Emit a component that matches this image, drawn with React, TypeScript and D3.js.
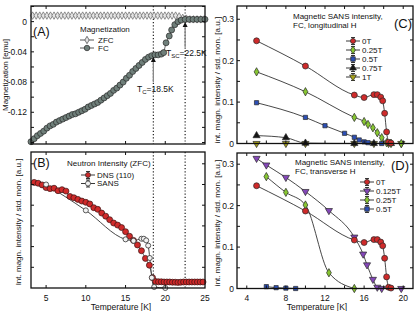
import React from 'react';
import * as d3 from 'd3';

// ---------- DATA ----------
// Panel A: magnetization
const zfcT = [3.3, 3.75, 4.2, 4.65, 5.1, 5.55, 6.0, 6.45, 6.9, 7.35, 7.8, 8.25, 8.7, 9.15, 9.6, 10.05, 10.5, 10.95, 11.4, 11.85, 12.3, 12.75, 13.2, 13.65, 14.1, 14.55, 15.0, 15.45, 15.9, 16.35, 16.8, 17.25, 17.7, 18.15, 18.6, 19.05, 19.5, 19.95, 20.4, 20.85, 21.3, 21.75, 22.2, 22.65, 23.1, 23.55, 24.0, 24.45, 24.9];
const zfcM = [0.008, 0.008, 0.008, 0.008, 0.008, 0.008, 0.008, 0.008, 0.008, 0.008, 0.008, 0.008, 0.008, 0.008, 0.008, 0.008, 0.008, 0.008, 0.008, 0.008, 0.008, 0.008, 0.008, 0.008, 0.008, 0.008, 0.008, 0.008, 0.008, 0.008, 0.008, 0.008, 0.008, 0.008, 0.008, 0.008, 0.008, 0.008, 0.008, 0.008, 0.008, 0.007, 0.005, 0.004, 0.003, 0.003, 0.003, 0.003, 0.003];
const fcT = [3.1, 3.5, 3.9, 4.3, 4.7, 5.1, 5.5, 5.9, 6.3, 6.7, 7.1, 7.5, 7.9, 8.3, 8.7, 9.1, 9.5, 9.9, 10.3, 10.7, 11.1, 11.5, 11.9, 12.3, 12.7, 13.1, 13.5, 13.9, 14.3, 14.7, 15.1, 15.5, 15.9, 16.3, 16.7, 17.1, 17.5, 17.9, 18.3, 18.7, 19.1, 19.5, 19.8, 20.1, 20.5, 20.8, 21.2, 21.6, 22.0, 22.5, 23.0, 23.5, 24.0, 24.5, 25.0];
const fcM = [-0.159, -0.155, -0.151, -0.148, -0.145, -0.141, -0.138, -0.136, -0.133, -0.131, -0.129, -0.127, -0.125, -0.123, -0.122, -0.120, -0.118, -0.116, -0.113, -0.111, -0.109, -0.107, -0.104, -0.101, -0.098, -0.095, -0.091, -0.088, -0.084, -0.080, -0.075, -0.071, -0.066, -0.062, -0.058, -0.054, -0.050, -0.047, -0.045, -0.044, -0.044, -0.043, -0.041, -0.028, -0.019, -0.011, -0.004, 0.000, 0.002, 0.003, 0.003, 0.003, 0.003, 0.003, 0.003];
const aYTicks = [-0.16, -0.14, -0.12, -0.10, -0.08, -0.06, -0.04, -0.02, 0, 0.02];
const aYLabels = [0, -0.04, -0.08, -0.12];

// Panel B: neutron intensity (ZFC), arbitrary units
const dnsT = [3.5, 4.0, 4.5, 5.0, 5.5, 6.0, 6.5, 7.0, 7.5, 8.0, 8.5, 9.0, 9.5, 10.0, 10.5, 11.0, 11.5, 12.0, 12.5, 13.0, 13.5, 14.0, 14.5, 15.0, 15.5, 16.0, 16.5, 17.0, 17.5, 18.0, 18.4, 18.8, 19.15, 19.5, 19.85, 20.2, 20.55, 20.9, 21.25, 21.6, 21.95, 22.3, 22.65, 23.0, 23.35, 23.7, 24.05, 24.4, 24.75];
const dnsI = [5.1, 5.06, 4.98, 4.85, 4.8, 4.82, 4.7, 4.75, 4.68, 4.42, 4.36, 4.28, 4.2, 4.14, 4.06, 3.88, 3.8, 3.62, 3.47, 3.3, 3.14, 3.04, 2.92, 2.72, 2.5, 2.3, 2.08, 1.8, 1.43, 1.1, 0.5, 0.31, 0.3, 0.3, 0.29, 0.29, 0.29, 0.28, 0.28, 0.27, 0.28, 0.29, 0.29, 0.29, 0.29, 0.29, 0.29, 0.29, 0.29];
const sansT = [5, 10, 15, 16, 17, 17.3, 17.6, 17.85, 18.05, 18.3, 18.6, 20];
const sansI = [5.0, 3.75, 2.35, 2.28, 2.38, 2.38, 2.3, 2.05, 1.45, 0.5, 0.05, 0.0];
const abXTicks = [5, 10, 15, 20];
const abXLabels = [5, 10, 15, 20, 25];
const bYTicks = [1, 2, 3, 4, 5, 6];

// Panel C: FC, longitudinal H
const t0T = [5, 10, 15, 16, 17, 17.35, 17.7, 17.9, 18.1, 18.3, 18.5, 18.75];
const t0V = [0.248, 0.187, 0.117, 0.111, 0.118, 0.118, 0.112, 0.103, 0.073, 0.028, 0.003, 0.001];
const l025T = [5, 10, 15, 16, 16.4, 16.9, 17.35, 17.8, 18.3, 18.75, 19.8];
const l025V = [0.173, 0.125, 0.063, 0.053, 0.046, 0.038, 0.026, 0.014, 0.002, 0, 0];
const l05T = [5, 10, 12, 14, 15, 15.5, 16, 16.4, 17.8];
const l05V = [0.0985, 0.063, 0.043, 0.0246, 0.015, 0.0085, 0.004, 0.002, 0];
const l075T = [5, 8, 10, 15, 17, 18.75];
const l075V = [0.019, 0.014, 0.001, 0, 0, 0];
const l1T = [5, 8, 10, 15, 17, 18.5, 19.8];
const l1V = [0, 0, 0, 0, 0, 0, 0];

// Panel D: FC, transverse H
const t0125T = [5, 6, 8, 10, 12.4, 15, 15.9, 16.3, 16.9, 17.35, 17.8, 19.8];
const t0125V = [0.314, 0.298, 0.268, 0.234, 0.188, 0.124, 0.083, 0.057, 0.022, 0.003, 0, 0];
const t025T = [6, 8, 10, 12.4, 15];
const t025V = [0.27, 0.232, 0.2015, 0.038, 0];
const t05T = [6, 7, 8, 9];
const t05V = [0.0045, 0.002, 0.001, 0];

const cdXTicks = [4, 6, 8, 10, 12, 14, 16, 18, 20];
const cdXLabels = [4, 8, 12, 16, 20];
const cdYTicks = [0.05, 0.1, 0.15, 0.2, 0.25, 0.3];
const cdYLabels = [0, 0.1, 0.2, 0.3];

// ---------- STYLE ----------
const FONT = '"Liberation Sans", Arial, Helvetica, sans-serif';
const RED = '#cf2a2a';
const GREEN = '#86c531';
const BLUE = '#2c4fb6';
const BLACK = '#151515';
const OLIVE = '#a8a21c';
const PURPLE = '#8447b8';

type Shape = 'circle' | 'diamond' | 'square' | 'up' | 'down';

function symPath(shape: Shape, size: number) {
  const type = shape === 'circle' ? d3.symbolCircle : shape === 'diamond' ? d3.symbolDiamond : shape === 'square' ? d3.symbolSquare : d3.symbolTriangle;
  return d3.symbol().type(type).size(size)() as string;
}

function Mark({ shape, x, y, fill, stroke = '#2a2a2a', size = 30, sw = 0.7 }: any) {
  const rot = shape === 'down' ? ' rotate(180)' : '';
  return <path d={symPath(shape, size)} transform={`translate(${x},${y})${rot}`} fill={fill} stroke={stroke} strokeWidth={sw} />;
}

function T({ x, y, children, size = 8.5, anchor = 'start', weight = 'normal', rotate = 0 }: any) {
  return (
    <text x={rotate ? 0 : x} y={rotate ? 0 : y} transform={rotate ? `translate(${x},${y}) rotate(${rotate})` : undefined}
      fontFamily={FONT} fontSize={size} textAnchor={anchor} fontWeight={weight} fill="#111">{children}</text>
  );
}

function LegendItem({ x, y, shape, fill, label, tx }: any) {
  return (
    <g>
      <line x1={x - 7} x2={x + 7} y1={y} y2={y} stroke="#222" strokeWidth={0.9} />
      <line x1={x} x2={x} y1={y - 3.5} y2={y + 3.5} stroke="#222" strokeWidth={0.9} />
      <line x1={x - 2} x2={x + 2} y1={y - 3.5} y2={y - 3.5} stroke="#222" strokeWidth={0.9} />
      <line x1={x - 2} x2={x + 2} y1={y + 3.5} y2={y + 3.5} stroke="#222" strokeWidth={0.9} />
      <Mark shape={shape} x={x} y={y} fill={fill} size={20} />
      <T x={tx} y={y + 2.8} size={8}>{label}</T>
    </g>
  );
}

function Frame({ x0, x1, y0, y1 }: any) {
  return <rect x={x0} y={y0} width={x1 - x0} height={y1 - y0} fill="none" stroke="#111" strokeWidth={1.3} />;
}

export default function App() {
  // scales
  const xAB = d3.scaleLinear().domain([3.1, 25]).range([31, 205]);
  const yA = d3.scaleLinear().domain([-0.162, 0.0207]).range([144, 6]);
  const yB = d3.scaleLinear().domain([0, 6.57]).range([288, 152]);
  const xCD = d3.scaleLinear().domain([3, 21]).range([237, 413]);
  const yC = d3.scaleLinear().domain([0, 0.332]).range([143.5, 6]);
  const yD = d3.scaleLinear().domain([0, 0.327]).range([288.5, 153]);

  const pts = (ts: number[], vs: number[]) => ts.map((t, i) => [t, vs[i]] as [number, number]);
  const lineLin = (xs: any, ys: any) => d3.line<[number, number]>().x(d => xs(d[0])).y(d => ys(d[1]));
  const lineSm = (xs: any, ys: any) => d3.line<[number, number]>().x(d => xs(d[0])).y(d => ys(d[1])).curve(d3.curveMonotoneX);

  const cSeries = [
    { label: '0T', T: t0T, V: t0V, shape: 'circle', fill: RED },
    { label: '0.25T', T: l025T, V: l025V, shape: 'diamond', fill: GREEN },
    { label: '0.5T', T: l05T, V: l05V, shape: 'square', fill: BLUE },
    { label: '0.75T', T: l075T, V: l075V, shape: 'up', fill: BLACK },
    { label: '1T', T: l1T, V: l1V, shape: 'down', fill: OLIVE },
  ];
  const dSeries = [
    { label: '0T', T: t0T, V: t0V, shape: 'circle', fill: RED },
    { label: '0.125T', T: t0125T, V: t0125V, shape: 'down', fill: PURPLE },
    { label: '0.25T', T: t025T, V: t025V, shape: 'diamond', fill: GREEN },
    { label: '0.5T', T: t05T, V: t05V, shape: 'square', fill: BLUE },
  ];

  const tick = 3;
  const aTop = 6, aBot = 144, bTop = 152, bBot = 288;
  const cTop = 6, cBot = 143.5, dTop = 153, dBot = 288.5;
  const L = 31, R = 205, CL = 237, CR = 413;

  const sizeFor = (s: string) => (s === 'square' ? 18 : s === 'circle' ? 28 : s === 'diamond' ? 20 : 22);

  return (
    <svg width={415} height={311} style={{ position: 'absolute', left: 0, top: 0, background: '#fff' }}>
      <rect x={0} y={0} width={415} height={311} fill="#fff" />

      {/* ===== Panel A ===== */}
      {[18.5, 22.5].map(t => (
        <line key={'da' + t} x1={xAB(t)} x2={xAB(t)} y1={aTop} y2={aBot} stroke="#222" strokeWidth={1.2} strokeDasharray="1.2,2" />
      ))}
      <path d={lineLin(xAB, yA)(pts(zfcT, zfcM)) as string} fill="none" stroke="#555" strokeWidth={0.8} />
      <path d={lineLin(xAB, yA)(pts(fcT, fcM)) as string} fill="none" stroke="#444" strokeWidth={0.8} />
      {zfcT.map((t, i) => <Mark key={'z' + i} shape="diamond" x={xAB(t)} y={yA(zfcM[i])} fill="#e4e4e4" stroke="#666" size={16} sw={0.7} />)}
      {fcT.map((t, i) => <Mark key={'f' + i} shape="circle" x={xAB(t)} y={yA(fcM[i])} fill="#6f7f7a" stroke="#2a2a2a" size={28} sw={0.7} />)}
      {aYTicks.map(v => (
        <g key={'ay' + v}>
          <line x1={L} x2={L + tick} y1={yA(v)} y2={yA(v)} stroke="#111" />
          <line x1={R} x2={R - tick} y1={yA(v)} y2={yA(v)} stroke="#111" />
        </g>
      ))}
      {abXTicks.map(t => (
        <g key={'ax' + t}>
          <line x1={xAB(t)} x2={xAB(t)} y1={aTop} y2={aTop + tick} stroke="#111" />
          <line x1={xAB(t)} x2={xAB(t)} y1={aBot} y2={aBot - tick} stroke="#111" />
        </g>
      ))}
      {aYLabels.map(v => <T key={'ayl' + v} x={27} y={yA(v) + 3} anchor="end">{v === 0 ? '0' : String(v)}</T>)}
      <Frame x0={L} x1={R} y0={aTop} y1={aBot} />
      <T x={33} y={36} size={12.5}>(A)</T>
      <T x={80} y={32} size={8}>Magnetization</T>
      <line x1={80} x2={94} y1={40} y2={40} stroke="#444" strokeWidth={0.9} />
      <Mark shape="diamond" x={87} y={40} fill="#e4e4e4" stroke="#555" size={16} sw={0.8} />
      <T x={98} y={42.8} size={8}>ZFC</T>
      <line x1={80} x2={94} y1={48} y2={48} stroke="#444" strokeWidth={0.9} />
      <Mark shape="circle" x={87} y={48} fill="#6f7f7a" size={24} />
      <T x={98} y={50.8} size={8}>FC</T>
      {/* arrows */}
      <line x1={xAB(18.5)} x2={xAB(18.5)} y1={82} y2={61} stroke="#888" strokeWidth={1.3} />
      <path d={`M${xAB(18.5)},57 l-2.5,5 l5,0 z`} fill="#111" />
      <line x1={xAB(22.5)} x2={xAB(22.5)} y1={47} y2={26} stroke="#888" strokeWidth={1.3} />
      <path d={`M${xAB(22.5)},22 l-2.5,5 l5,0 z`} fill="#111" />
      <text x={137} y={92} fontFamily={FONT} fontSize={8.5} fill="#111">T<tspan fontSize={6} dy={2}>C</tspan><tspan dy={-2}>=18.5K</tspan></text>
      <text x={166} y={56} fontFamily={FONT} fontSize={8.5} fill="#111">T<tspan fontSize={6} dy={2}>SC</tspan><tspan dy={-2}>=22.5K</tspan></text>
      <T x={8} y={75} size={8} anchor="middle" rotate={-90}>Magnetization [emu]</T>

      {/* ===== Panel B ===== */}
      {[18.5, 22.5].map(t => (
        <line key={'db' + t} x1={xAB(t)} x2={xAB(t)} y1={bTop} y2={bBot} stroke="#222" strokeWidth={1.2} strokeDasharray="1.2,2" />
      ))}
      <path d={lineSm(xAB, yB)(pts(sansT, sansI)) as string} fill="none" stroke="#333" strokeWidth={0.9} />
      <path d={lineLin(xAB, yB)(pts(dnsT, dnsI)) as string} fill="none" stroke="#333" strokeWidth={0.7} />
      {dnsT.map((t, i) => <Mark key={'dn' + i} shape="circle" x={xAB(t)} y={yB(dnsI[i])} fill={RED} stroke="#3a1212" size={28} sw={0.7} />)}
      {sansT.map((t, i) => <Mark key={'sa' + i} shape="circle" x={xAB(t)} y={yB(sansI[i])} fill="#f2f2f2" stroke="#333" size={20} sw={0.8} />)}
      {bYTicks.map(v => (
        <g key={'by' + v}>
          <line x1={L} x2={L + tick} y1={yB(v)} y2={yB(v)} stroke="#111" />
          <line x1={R} x2={R - tick} y1={yB(v)} y2={yB(v)} stroke="#111" />
        </g>
      ))}
      {abXTicks.map(t => (
        <g key={'bx' + t}>
          <line x1={xAB(t)} x2={xAB(t)} y1={bTop} y2={bTop + tick} stroke="#111" />
          <line x1={xAB(t)} x2={xAB(t)} y1={bBot} y2={bBot - tick} stroke="#111" />
        </g>
      ))}
      {abXLabels.map(t => <T key={'bxl' + t} x={xAB(t)} y={301} anchor="middle">{t}</T>)}
      <Frame x0={L} x1={R} y0={bTop} y1={bBot} />
      <T x={33} y={167} size={12.5}>(B)</T>
      <T x={67} y={166} size={8}>Neutron Intensity (ZFC)</T>
      <LegendItem x={88} y={175} shape="circle" fill={RED} label="DNS (110)" tx={97} />
      <LegendItem x={88} y={183.5} shape="circle" fill="#f2f2f2" label="SANS" tx={97} />
      <T x={121} y={310} anchor="middle">Temperature [K]</T>
      <T x={21} y={222} size={8} anchor="middle" rotate={-90}>Int. magn. intensity / std. mon. [a.u.]</T>

      {/* ===== Panel C ===== */}
      {cSeries.map(s => (
        <path key={'cl' + s.label} d={lineSm(xCD, yC)(pts(s.T, s.V)) as string} fill="none" stroke="#333" strokeWidth={0.9} />
      ))}
      {cSeries.slice().reverse().map(s => s.T.map((t, i) => (
        <Mark key={'cm' + s.label + i} shape={s.shape} x={xCD(t)} y={yC(s.V[i])} fill={s.fill} size={sizeFor(s.shape)} />
      )))}
      {cdYTicks.map(v => (
        <g key={'cy' + v}>
          <line x1={CL} x2={CL + tick} y1={yC(v)} y2={yC(v)} stroke="#111" />
          <line x1={CR} x2={CR - tick} y1={yC(v)} y2={yC(v)} stroke="#111" />
        </g>
      ))}
      {cdXTicks.map(t => (
        <g key={'cx' + t}>
          <line x1={xCD(t)} x2={xCD(t)} y1={cTop} y2={cTop + tick} stroke="#111" />
          <line x1={xCD(t)} x2={xCD(t)} y1={cBot} y2={cBot - tick} stroke="#111" />
        </g>
      ))}
      {cdYLabels.map(v => <T key={'cyl' + v} x={234} y={yC(v) + 3} anchor="end">{v === 0 ? '0' : String(v)}</T>)}
      <Frame x0={CL} x1={CR} y0={cTop} y1={cBot} />
      <T x={293} y={19} size={8}>Magnetic SANS intensity,</T>
      <T x={293} y={28} size={8}>FC, longitudinal H</T>
      <T x={394} y={28} size={13}>(C)</T>
      {cSeries.map((s, i) => (
        <LegendItem key={'cleg' + s.label} x={353} y={41 + i * 9} shape={s.shape} fill={s.fill} label={s.label} tx={362} />
      ))}
      <T x={220} y={80} size={8} anchor="middle" rotate={-90}>int. magn. intensity / std. mon. [a.u.]</T>

      {/* ===== Panel D ===== */}
      {dSeries.map(s => (
        <path key={'dl' + s.label} d={lineSm(xCD, yD)(pts(s.T, s.V)) as string} fill="none" stroke="#333" strokeWidth={0.9} />
      ))}
      {dSeries.slice().reverse().map(s => s.T.map((t, i) => (
        <Mark key={'dm' + s.label + i} shape={s.shape} x={xCD(t)} y={yD(s.V[i])} fill={s.fill} size={sizeFor(s.shape)} />
      )))}
      {cdYTicks.map(v => (
        <g key={'dy' + v}>
          <line x1={CL} x2={CL + tick} y1={yD(v)} y2={yD(v)} stroke="#111" />
          <line x1={CR} x2={CR - tick} y1={yD(v)} y2={yD(v)} stroke="#111" />
        </g>
      ))}
      {cdXTicks.map(t => (
        <g key={'dx' + t}>
          <line x1={xCD(t)} x2={xCD(t)} y1={dTop} y2={dTop + tick} stroke="#111" />
          <line x1={xCD(t)} x2={xCD(t)} y1={dBot} y2={dBot - tick} stroke="#111" />
        </g>
      ))}
      {cdYLabels.map(v => <T key={'dyl' + v} x={234} y={yD(v) + 3} anchor="end">{v === 0 ? '0' : String(v)}</T>)}
      {cdXLabels.map(t => <T key={'dxl' + t} x={xCD(t)} y={301} anchor="middle">{t}</T>)}
      <Frame x0={CL} x1={CR} y0={dTop} y1={dBot} />
      <T x={295} y={165} size={8}>Magnetic SANS intensity,</T>
      <T x={295} y={174} size={8}>FC, transverse H</T>
      <T x={391} y={170} size={13}>(D)</T>
      {dSeries.map((s, i) => (
        <LegendItem key={'dleg' + s.label} x={367} y={182 + i * 9} shape={s.shape} fill={s.fill} label={s.label} tx={376} />
      ))}
      <T x={317} y={310} anchor="middle">Temperature [K]</T>
      <T x={220} y={223} size={8} anchor="middle" rotate={-90}>int. magn. intensity / std. mon. [a.u.]</T>
    </svg>
  );
}
